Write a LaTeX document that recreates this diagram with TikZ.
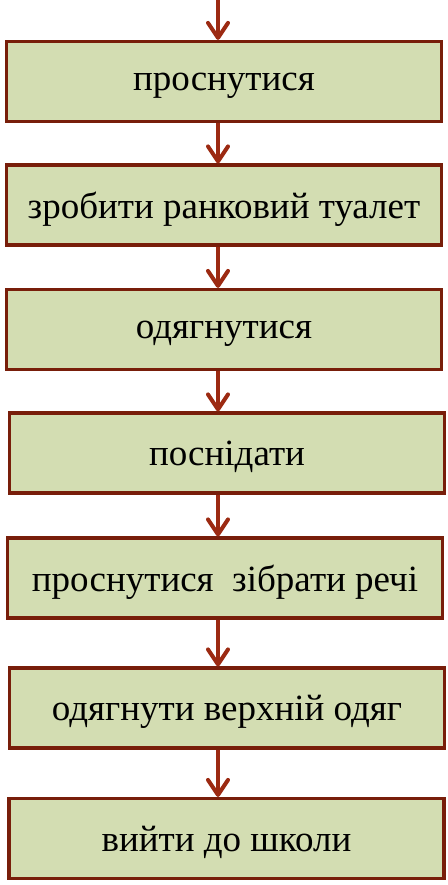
\documentclass[tikz,border=0pt]{standalone}
\usepackage{fontspec}
\setmainfont{Liberation Serif}
\usepackage{tikz}
\usetikzlibrary{arrows.meta,positioning,calc}
\definecolor{stepline}{RGB}{120,30,10}
\definecolor{stepfill}{RGB}{211,221,178}
\definecolor{arrowred}{RGB}{156,42,18}

\begin{document}
\begin{tikzpicture}[
  x=1pt, y=-1pt,
  stepbox/.style={draw=stepline, line width=3.2pt, fill=stepfill, minimum width=435pt, minimum height=80pt, inner sep=0pt, text depth=0pt, font=\fontsize{37}{42}\selectfont},
  flow/.style={draw=arrowred, line width=4pt, -{Straight Barb[length=15pt, width=20pt, round]}},
]
\useasboundingbox (0,0) rectangle (447,885);
\coordinate (start) at (218,0);
\node[stepbox] (wake) at (224,81.5) {проснутися};
\node[stepbox] (wash) at (224,205) {зробити ранковий туалет};
\node[stepbox] (dress) at (224,329.5) {одягнутися};
\node[stepbox] (eat) at (227,453) {поснідати};
\node[stepbox] (pack) at (225,578) {проснутися\ \ зібрати речі};
\node[stepbox] (coat) at (227,708) {одягнути верхній одяг};
\node[stepbox] (leave) at (226.5,838.5) {вийти до школи};

\draw[flow] (start) -- (wake.north -| start);
\draw[flow] (wake.south -| start) -- (wash.north -| start);
\draw[flow] (wash.south -| start) -- (dress.north -| start);
\draw[flow] (dress.south -| start) -- (eat.north -| start);
\draw[flow] (eat.south -| start) -- (pack.north -| start);
\draw[flow] (pack.south -| start) -- (coat.north -| start);
\draw[flow] (coat.south -| start) -- (leave.north -| start);
\end{tikzpicture}
\end{document}
